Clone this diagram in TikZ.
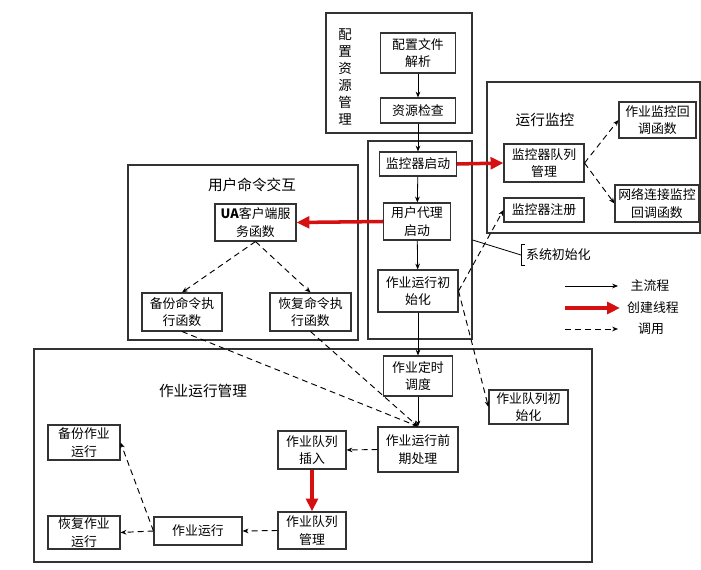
\documentclass[tikz,border=0pt]{standalone}
\usepackage{fontspec}
\usepackage{tikz}
\usetikzlibrary{arrows.meta}
\newfontfamily\cjkfont{Noto Sans CJK SC}
\definecolor{threadred}{RGB}{214,16,16}

\begin{document}
\begin{tikzpicture}[x=0.03cm, y=-0.03cm,
  sz/.style n args={2}{minimum width=#1*0.03cm, minimum height=#2*0.03cm},
  box/.style={draw=black!80, line width=0.9pt, align=center, inner sep=1pt, font=\cjkfont\fontsize{11}{15}\selectfont},
  grp/.style={draw=black!80, line width=0.9pt, inner sep=0pt},
  title/.style={inner sep=1pt, font=\cjkfont\fontsize{12.5}{15}\selectfont},
  flow/.style={-{Stealth[length=5pt,width=4pt]}, line width=0.7pt},
  call/.style={-{Stealth[length=5pt,width=4pt]}, dash pattern=on 5pt off 3.5pt, line width=0.8pt},
  thread/.style={-{Triangle[length=11pt,width=10pt]}, line width=3pt, draw=threadred, color=threadred}
]
\useasboundingbox (0,0) rectangle (701,570);

% groups
\node[grp, sz={146}{120}] (grpcfg) at (399,73) {};
\node[grp, sz={104}{198}] (grpinit) at (420,240) {};
\node[grp, sz={213}{151}] (grpmon) at (593.5,157.5) {};
\node[grp, sz={230}{175}] (grpua) at (243,252.5) {};
\node[grp, sz={558}{213}] (grpjob) at (313,455.5) {};

\node[box, draw=none, font=\cjkfont\fontsize{11.5}{14.5}\selectfont] (cfgtitle) at (345,77) {配\\置\\资\\源\\管\\理};
\node[title] (montitle) at (545,120) {运行监控};
\node[title] (uatitle) at (252,185) {用户命令交互};
\node[title] (jobtitle) at (203,391) {作业运行管理};

% main column
\node[box, sz={75}{40}] (cfgparse) at (418,53) {配置文件\\解析};
\node[box, sz={75}{25}] (rescheck) at (418,110.5) {资源检查};
\node[box, sz={77}{24}] (monstart) at (418,164) {监控器启动};
\node[box, sz={67}{37}] (uastart) at (417,221.5) {用户代理\\启动};
\node[box, sz={80}{42}] (jobinit) at (418,291) {作业运行初\\始化};
\node[box, sz={69}{40}] (jobsched) at (418,376) {作业定时\\调度};
\node[box, sz={80}{45}] (jobpre) at (418,449.5) {作业运行前\\期处理};

% monitor
\node[box, sz={80}{38}] (monq) at (544,163) {监控器队列\\管理};
\node[box, sz={77}{36}] (jobcb) at (657.5,120) {作业监控回\\调函数};
\node[box, sz={84}{37}] (netcb) at (657,203.5) {网络连接监控\\回调函数};
\node[box, sz={80}{24}] (monreg) at (544,210) {监控器注册};

% user commands
\node[box, sz={81}{37}] (uasvc) at (255.5,222.5) {\textbf{UA}客户端服\\务函数};
\node[box, sz={80}{38}] (bkcmd) at (182,312) {备份命令执\\行函数};
\node[box, sz={81}{38}] (rscmd) at (310.5,312) {恢复命令执\\行函数};

% job management
\node[box, sz={79}{34}] (qinit) at (528.5,407) {作业队列初\\始化};
\node[box, sz={68}{38}] (qinsert) at (312,450) {作业队列\\插入};
\node[box, sz={68}{37}] (qmgr) at (312,530.5) {作业队列\\管理};
\node[box, sz={88}{28}] (jobrun) at (198,531) {作业运行};
\node[box, sz={72}{35}] (bkrun) at (84,442.5) {备份作业\\运行};
\node[box, sz={72}{33}] (rsrun) at (84,532.5) {恢复作业\\运行};

% system init label
\node[box, draw=none, anchor=west, inner xsep=4pt, minimum height=20*0.03cm] (sysinit) at (521,255) {系统初始化};
\draw[line width=0.7pt] ([xshift=4*0.03cm]sysinit.north west) -- (sysinit.north west) -- (sysinit.south west) -- ++(4,0);
\draw[line width=0.7pt] (grpinit.east) -- (sysinit.west);

% main flow
\draw[flow] (cfgparse) -- (rescheck);
\draw[flow] (rescheck) -- (monstart);
\draw[flow] (monstart) -- (uastart);
\draw[flow] (uastart) -- (jobinit);
\draw[flow] (jobinit) -- (jobsched);
\draw[flow] (jobsched) -- (jobpre);

% threads
\draw[thread] (monstart.east) -- (monq.west);
\draw[thread] (uastart.west) -- (uasvc.east);
\draw[thread] (qinsert) -- (qmgr);

% calls
\draw[call] (monq.east) -- (jobcb.west);
\draw[call] (monq.east) -- (netcb.west);
\draw[call] (jobinit.east) -- (monreg.west);
\draw[call] (jobinit.east) -- (qinit.west);
\draw[call] (uasvc.south) -- (bkcmd.north);
\draw[call] (uasvc.south) -- (rscmd.north);
\draw[call] (bkcmd.south) -- (jobpre.north);
\draw[call] (rscmd.south) -- (jobpre.north);
\draw[call] (jobpre.west) -- (qinsert.east);
\draw[call] (qmgr.west) -- (jobrun.east);
\draw[call] (jobrun.west) -- (rsrun.east);
\draw[call] (jobrun.west) -- (bkrun.east);

% legend
\coordinate (lgmaina) at (565,286);
\coordinate (lgmainb) at (618,286);
\coordinate (lgthra) at (565,308);
\coordinate (lgthrb) at (620,308);
\coordinate (lgcalla) at (565,329);
\coordinate (lgcallb) at (618,329);
\node[box, draw=none] (lgmain) at (650,286) {主流程};
\node[box, draw=none] (lgthr) at (653,308) {创建线程};
\node[box, draw=none] (lgcall) at (651,329) {调用};
\draw[flow] (lgmaina) -- (lgmainb);
\draw[thread] (lgthra) -- (lgthrb);
\draw[call] (lgcalla) -- (lgcallb);
\end{tikzpicture}
\end{document}
